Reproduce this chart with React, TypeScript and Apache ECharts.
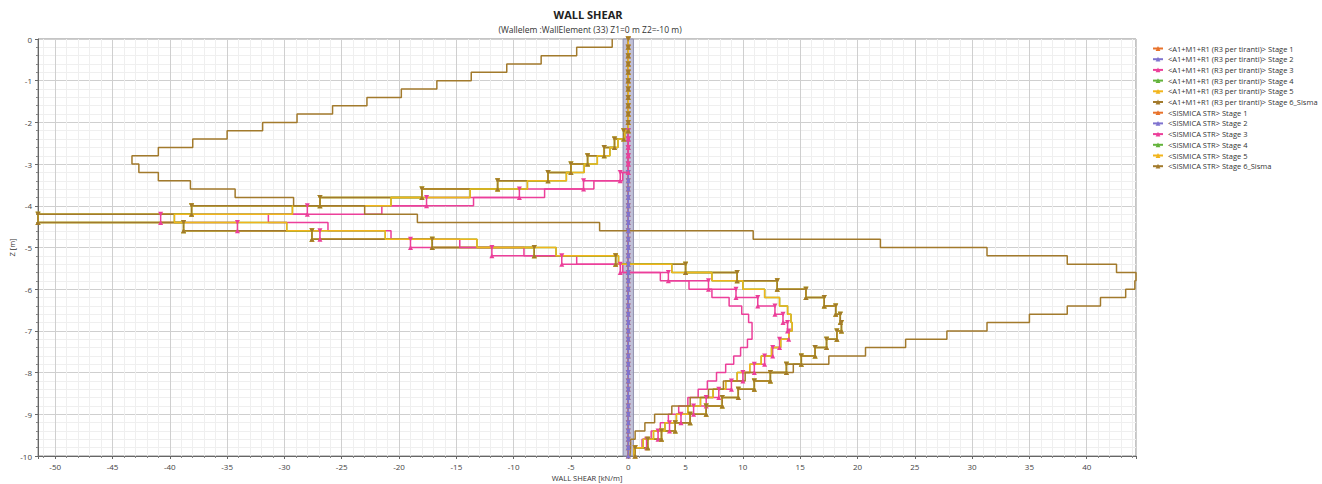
import { useEffect, useRef } from "react";
import * as echarts from "echarts";

// Element boundaries along the wall (m)
const depthBoundaries = [
  0, -0.2, -0.4, -0.6, -0.8, -1, -1.2, -1.4, -1.6, -1.8, -2, -2.2, -2.4, -2.6, -2.8, -3, -3.2,
  -3.4, -3.6, -3.8, -4, -4.2, -4.4, -4.6, -4.8, -5, -5.2, -5.4, -5.6, -5.8, -6, -6.2, -6.4,
  -6.6, -6.8, -7, -7.2, -7.4, -7.6, -7.8, -8, -8.2, -8.4, -8.6, -8.8, -9, -9.2, -9.4, -9.6,
  -9.8, -10,
];

// Wall shear per element (kN/m), top element first
const stageZero = [
  0, 0, 0, 0, 0, 0, 0, 0, 0, 0, 0, 0, 0, 0, 0, 0, 0, 0, 0, 0, 0, 0, 0, 0, 0,
  0, 0, 0, 0, 0, 0, 0, 0, 0, 0, 0, 0, 0, 0, 0, 0, 0, 0, 0, 0, 0, 0, 0, 0, 0,
];

const a1Stage3 = [
  0, 0, 0, 0, 0, 0, 0, 0, 0, 0, 0, 0, 0, 0, 0, 0,
  -0.7, -3.9, -9.5, -17.6, -28.0, -40.8, -34.1, -26.9, -19.0, -11.9, -5.8, -0.7,
  3.5, 7.0, 9.4, 11.3, 12.8, 13.5, 13.9, 14.0, 13.2, 12.6, 11.9, 11.0, 10.0, 9.0,
  7.9, 6.8, 5.7, 4.6, 3.6, 2.6, 1.6, 0.6,
];

const a1Stage6Sisma = [
  0, 0, 0, 0, 0, 0, 0, 0, 0, 0, 0,
  -0.4, -1.2, -2.1, -3.55, -5.0, -7.0, -11.4, -18.0, -26.9, -38.1, -51.5, -38.8,
  -27.6, -17.1, -8.2, -1.1, 5.0, 9.5, 13.0, 15.5, 17.1, 18.1, 18.5, 18.6, 18.2,
  17.3, 16.3, 15.1, 13.8, 12.4, 11.0, 9.6, 8.2, 6.8, 5.4, 4.1, 2.9, 1.7, 0.6,
];

const a1Stage5 = [
  0, 0, 0, 0, 0, 0, 0, 0, 0, 0, 0,
  -0.4, -1.2, -2.1, -3.55, -5.0, -7.0, -11.4, -18.0, -26.9, -38.1, -51.5, -38.8,
  -27.6, -17.1, -8.2, -1.1, 5.0, 9.5, 13.0, 15.5, 17.1, 18.1, 18.5, 18.6, 18.2,
  17.3, 16.3, 15.1, 13.8, 12.4, 11.0, 9.6, 8.2, 6.8, 5.4, 4.1, 2.9, 1.7, 0.6,
];

const sismicaStage3 = [
  0, 0, 0, 0, 0, 0, 0, 0, 0, 0, 0, 0, 0, 0, 0, 0,
  -0.5, -3.0, -7.3, -13.5, -21.5, -31.4, -26.2, -20.7, -14.7, -9.1, -4.5, -0.5,
  2.8, 5.3, 7.3, 8.8, 9.9, 10.5, 10.8, 10.8, 10.4, 9.8, 9.2, 8.5, 7.7, 6.9, 6.1,
  5.2, 4.4, 3.5, 2.8, 2.0, 1.2, 0.5,
];

const sismicaStage5 = [
  0, 0, 0, 0, 0, 0, 0, 0, 0, 0, 0,
  -0.3, -0.9, -1.6, -2.7, -3.85, -5.4, -8.8, -13.8, -20.7, -29.3, -39.6, -29.8,
  -21.2, -13.2, -6.3, -0.85, 3.8, 7.3, 10.0, 11.9, 13.2, 13.9, 14.2, 14.3, 14.0,
  13.3, 12.5, 11.6, 10.6, 9.5, 8.5, 7.4, 6.3, 5.2, 4.2, 3.2, 2.2, 1.3, 0.5,
];

const sismicaStage6Sisma = [
  -1.4, -4.5, -7.6, -10.6, -13.7, -16.7, -19.8, -22.8, -25.8, -28.9, -31.9, -35.0,
  -38.0, -41.0, -43.3, -42.7, -41.0, -38.2, -34.3, -29.2, -23.0, -18.4, -2.5, 10.9,
  22.0, 31.3, 38.3, 42.6, 44.3, 44.2, 43.4, 41.2, 38.3, 35.0, 31.3, 27.8, 24.2,
  20.7, 17.5, 14.4, 10.2, 8.3, 7.0, 5.4, 3.8, 2.3, 1.45, 0.6, 0.2, 0.15,
];

const stageLabels = ["Stage 1", "Stage 2", "Stage 3", "Stage 4", "Stage 5", "Stage 6_Sisma"];
const stageColors = ["#E8732C", "#7F73CF", "#EC3F9A", "#63B33B", "#F2B51C", "#A27A2C"];
const combinationA1 = "<A1+M1+R1 (R3 per tiranti)>";
const combinationSismica = "<SISMICA STR>";

const a1Values = [stageZero, stageZero, a1Stage3, a1Stage5, a1Stage5, a1Stage6Sisma];
const sismicaValues = [stageZero, stageZero, sismicaStage3, sismicaStage5, sismicaStage5, sismicaStage6Sisma];

const xExtent = [-51.5, 44.3];
const zExtent = [-10, 0];

const FONT = '"Open Sans", "Noto Sans", sans-serif';

function stepData(values: number[]) {
  const pts: any[] = [];
  values.forEach((v, i) => {
    pts.push({ value: [v, depthBoundaries[i]], symbolRotate: 180 });
    pts.push({ value: [v, depthBoundaries[i + 1]], symbolRotate: 0 });
  });
  return pts;
}

function buildOption() {
  const series: any[] = [];
  const names: string[] = [];
  const makeSeries = (comb: string, valuesList: number[][], marked: boolean) => {
    valuesList.forEach((values, i) => {
      const name = `${comb} ${stageLabels[i]}`;
      names.push(name);
      series.push({
        name,
        type: "line",
        data: stepData(values),
        symbol: "triangle",
        symbolSize: 5,
        showSymbol: marked,
        lineStyle: { width: 1.5, color: stageColors[i] },
        itemStyle: { color: stageColors[i] },
        emphasis: { disabled: true },
        silent: true,
        clip: true,
      });
    });
  };
  makeSeries(combinationA1, a1Values, true);
  makeSeries(combinationSismica, sismicaValues, false);

  // light band around zero line
  series[0].markArea = {
    silent: true,
    itemStyle: { color: "rgba(178,178,206,0.8)", borderColor: "#8e8eab", borderWidth: 1 },
    data: [[{ xAxis: -0.45, yAxis: zExtent[1] }, { xAxis: 0.45, yAxis: zExtent[0] }]],
  };

  return {
    animation: false,
    backgroundColor: "#ffffff",
    textStyle: { fontFamily: FONT },
    graphic: [
      {
        type: "text",
        x: 588,
        y: 14,
        style: {
          text: "WALL SHEAR",
          font: `bold 11px ${FONT}`,
          fill: "#222",
          align: "center",
          verticalAlign: "middle",
          textAlign: "center",
          textVerticalAlign: "middle",
        },
      },
      {
        type: "text",
        x: 590,
        y: 29,
        style: {
          text: "(Wallelem :WallElement (33) Z1=0 m Z2=-10 m)",
          font: `8.5px ${FONT}`,
          fill: "#333",
          align: "center",
          verticalAlign: "middle",
          textAlign: "center",
          textVerticalAlign: "middle",
        },
      },
    ],
    legend: {
      orient: "vertical",
      left: 1152,
      top: 44,
      padding: 0,
      itemWidth: 10,
      itemHeight: 6,
      itemGap: 1.7,
      selectedMode: false,
      data: names,
      textStyle: { fontSize: 7.5, color: "#333", lineHeight: 9, fontFamily: FONT },
    },
    grid: {
      left: 38,
      right: 186,
      top: 39,
      bottom: 28,
      show: true,
      borderColor: "#8a8a8a",
      borderWidth: 1,
      containLabel: false,
      outerBoundsMode: "none",
    },
    xAxis: {
      type: "value",
      min: xExtent[0],
      max: xExtent[1],
      splitNumber: 19,
      name: "WALL SHEAR [kN/m]",
      nameLocation: "middle",
      nameGap: 18,
      nameMoveOverlap: false,
      nameTextStyle: { fontSize: 7.5, color: "#333", fontFamily: FONT },
      axisLine: { show: true, onZero: false, lineStyle: { color: "#666" } },
      axisTick: { show: true, length: 3, lineStyle: { color: "#666" } },
      minorTick: { show: true, splitNumber: 5, length: 2, lineStyle: { color: "#888" } },
      axisLabel: {
        fontSize: 8,
        color: "#444",
        margin: 6,
        showMinLabel: false,
        showMaxLabel: false,
        fontFamily: FONT,
      },
      splitLine: { show: true, lineStyle: { color: "#cfcfcf", width: 1 } },
      minorSplitLine: { show: true, lineStyle: { color: "#efefef", width: 1 } },
    },
    yAxis: {
      type: "value",
      min: zExtent[0],
      max: zExtent[1],
      interval: 1,
      name: "Z [m]",
      nameLocation: "middle",
      nameGap: 22,
      nameRotate: 90,
      nameMoveOverlap: false,
      nameTextStyle: { fontSize: 7.5, color: "#333", fontFamily: FONT },
      axisLine: { show: true, onZero: false, lineStyle: { color: "#666" } },
      axisTick: { show: true, length: 3, lineStyle: { color: "#666" } },
      minorTick: { show: true, splitNumber: 5, length: 2, lineStyle: { color: "#888" } },
      axisLabel: { fontSize: 8, color: "#444", margin: 6, fontFamily: FONT },
      splitLine: { show: true, lineStyle: { color: "#cfcfcf", width: 1 } },
      minorSplitLine: { show: true, lineStyle: { color: "#efefef", width: 1 } },
    },
    series,
  };
}

export default function App() {
  const ref = useRef<HTMLDivElement>(null);
  useEffect(() => {
    if (!ref.current) return;
    const chart = echarts.init(ref.current, undefined, { renderer: "svg" });
    chart.setOption(buildOption() as any);
    return () => chart.dispose();
  }, []);
  return (
    <div
      ref={ref}
      style={{ position: "fixed", left: 0, top: 0, width: 1322, height: 484, background: "#fff" }}
    />
  );
}
